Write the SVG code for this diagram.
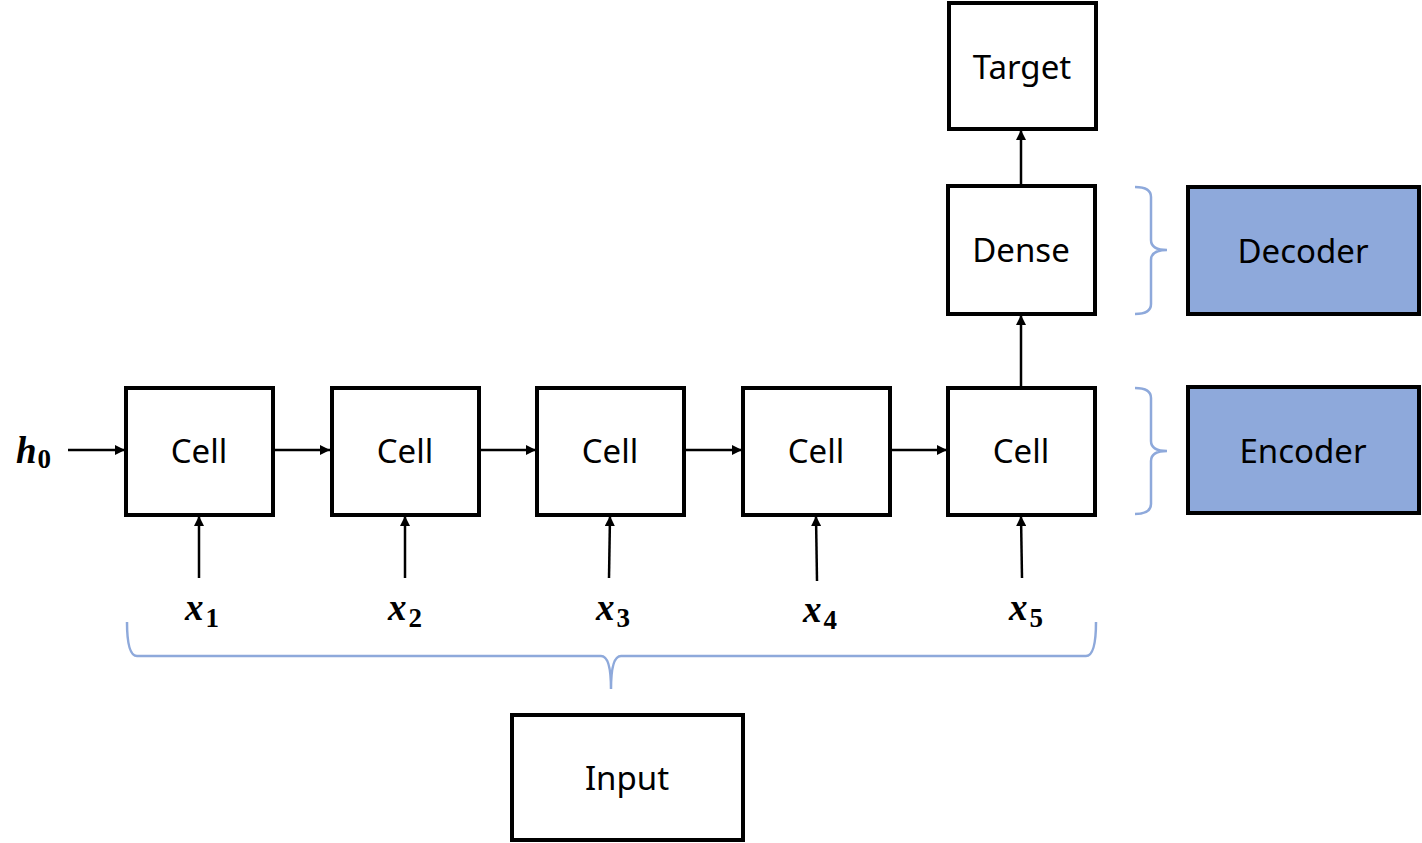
<svg xmlns="http://www.w3.org/2000/svg" width="1422" height="843" viewBox="0 0 1422 843">
<style>
.box{fill:#fff;stroke:#000;stroke-width:4}
.blue{fill:#8EA9DB;stroke:#000;stroke-width:4}
.lbl{font-family:"Noto Sans","Open Sans",sans-serif;font-size:33px;fill:#000;text-anchor:middle}
.math{font-family:"Liberation Serif",serif;font-weight:bold;font-style:italic;font-size:37px;fill:#000}
.sub{font-family:"Liberation Serif",serif;font-weight:bold;font-style:normal;font-size:27px;fill:#000}
.conn{stroke:#000;stroke-width:2.5;fill:none;marker-end:url(#ah)}
.brace{stroke:#8EA9DB;stroke-width:2.5;fill:none}
</style>
<defs>
<marker id="ah" viewBox="0 0 10 10" refX="10" refY="5" markerWidth="4.4" markerHeight="4" orient="auto" markerUnits="strokeWidth">
<path d="M0,0 L10,5 L0,10 z" fill="#000"/>
</marker>
</defs>
<g id="connectors">
<line class="conn" x1="68" y1="450" x2="125" y2="450"/>
<line class="conn" x1="273" y1="450" x2="330" y2="450"/>
<line class="conn" x1="479" y1="450" x2="536" y2="450"/>
<line class="conn" x1="684" y1="450" x2="742" y2="450"/>
<line class="conn" x1="890" y1="450" x2="947" y2="450"/>
<line class="conn" x1="199" y1="578" x2="199" y2="516"/>
<line class="conn" x1="405" y1="578" x2="405" y2="516"/>
<line class="conn" x1="609" y1="578" x2="610" y2="516"/>
<line class="conn" x1="817" y1="581" x2="816" y2="516"/>
<line class="conn" x1="1022" y1="578" x2="1021" y2="516"/>
<line class="conn" x1="1021" y1="386" x2="1021" y2="315"/>
<line class="conn" x1="1021" y1="184" x2="1021" y2="130"/>
</g>
<g id="braces">
<path class="brace" d="M1135,187 Q1151,187 1151,197 L1151,240 Q1151,250 1167,250 Q1151,250 1151,260 L1151,304 Q1151,314 1135,314"/>
<path class="brace" d="M1135,388 Q1151,388 1151,398 L1151,441 Q1151,451 1167,451 Q1151,451 1151,461 L1151,504 Q1151,514 1135,514"/>
<path class="brace" d="M127,622 Q127,656 137,656 L601,656 Q611,656 611,689 Q611,656 621,656 L1086,656 Q1096,656 1096,622"/>
</g>
<g id="h0"><text class="math" x="16" y="463">h<tspan class="sub" dx="1" dy="5">0</tspan></text></g>
<g id="x1"><text class="math" x="185" y="620">x<tspan class="sub" dx="2" dy="7">1</tspan></text></g>
<g id="x2"><text class="math" x="388" y="620">x<tspan class="sub" dx="2" dy="7">2</tspan></text></g>
<g id="x3"><text class="math" x="596" y="620">x<tspan class="sub" dx="2" dy="7">3</tspan></text></g>
<g id="x4"><text class="math" x="803" y="622">x<tspan class="sub" dx="2" dy="7">4</tspan></text></g>
<g id="x5"><text class="math" x="1009" y="620">x<tspan class="sub" dx="2" dy="7">5</tspan></text></g>
<g id="cell1"><rect class="box" x="126" y="388" width="147" height="127"/><text class="lbl" x="199" y="463">Cell</text></g>
<g id="cell2"><rect class="box" x="332" y="388" width="147" height="127"/><text class="lbl" x="405" y="463">Cell</text></g>
<g id="cell3"><rect class="box" x="537" y="388" width="147" height="127"/><text class="lbl" x="610" y="463">Cell</text></g>
<g id="cell4"><rect class="box" x="743" y="388" width="147" height="127"/><text class="lbl" x="816" y="463">Cell</text></g>
<g id="cell5"><rect class="box" x="948" y="388" width="147" height="127"/><text class="lbl" x="1021" y="463">Cell</text></g>
<g id="dense"><rect class="box" x="948" y="186" width="147" height="128"/><text class="lbl" x="1021" y="262">Dense</text></g>
<g id="target"><rect class="box" x="949" y="3" width="147" height="126"/><text class="lbl" x="1022" y="79">Target</text></g>
<g id="input"><rect class="box" x="512" y="715" width="231" height="125"/><text class="lbl" x="627" y="790">Input</text></g>
<g id="decoder"><rect class="blue" x="1188" y="187" width="231" height="127"/><text class="lbl" x="1303" y="263">Decoder</text></g>
<g id="encoder"><rect class="blue" x="1188" y="387" width="231" height="126"/><text class="lbl" x="1303" y="463">Encoder</text></g>
</svg>
